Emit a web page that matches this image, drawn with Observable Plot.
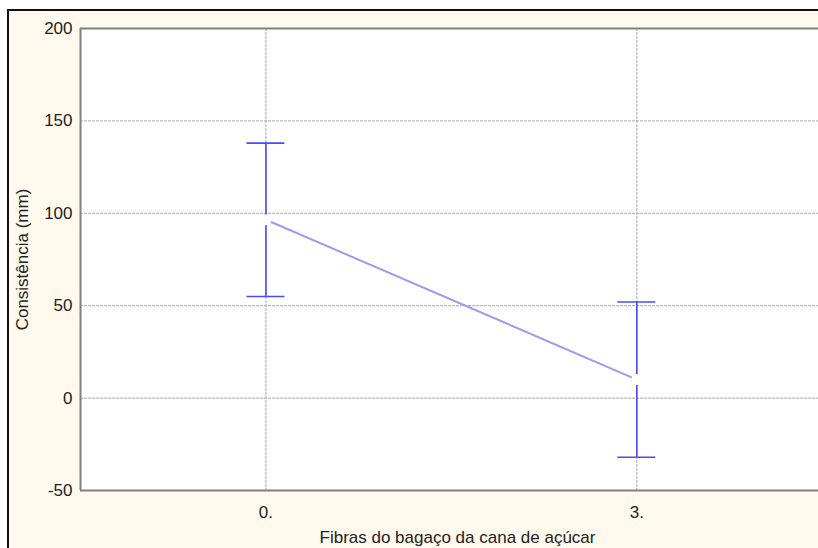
<!DOCTYPE html>
<html>
<head>
<meta charset="utf-8">
<script src="https://cdn.jsdelivr.net/npm/d3@7"></script>
<script src="https://cdn.jsdelivr.net/npm/@observablehq/plot@0.6"></script>
<style>
  html, body { margin: 0; padding: 0; background: #ffffff; overflow: hidden; }
  #wrap {
    position: absolute; left: 7px; top: 9px;
    width: 825px; height: 539px;
    border-left: 2px solid #111; border-top: 2px solid #111;
    background: #fff9ee;
  }
  #wrap svg { display: block; background: #fff9ee; }
</style>
</head>
<body>
<div id="wrap"></div>
<script>
const categories = ["0.", "3."];
const means = [96.5, 10];
const lower = [55, -32];
const upper = [138, 52];
const yTicks = [-50, 0, 50, 100, 150, 200];
const yLabel = "Consistência (mm)";
const xLabel = "Fibras do bagaço da cana de açúcar";

const data = categories.map((c, i) => ({i, c, mean: means[i], lo: lower[i], hi: upper[i]}));
const capHalf = 0.0512;
const font = "'Liberation Sans', Arial, sans-serif";

const chart = Plot.plot({
  width: 825,
  height: 537,
  marginLeft: 71,
  marginTop: 17,
  marginBottom: 58,
  marginRight: 0,
  style: {fontFamily: font, fontSize: "17px", color: "#222", background: "#fff9ee"},
  x: {type: "linear", domain: [-0.5, 1.533]},
  y: {domain: [-50, 200]},
  marks: [
    Plot.frame({fill: "white", stroke: "none"}),
    Plot.gridY([0, 50, 100, 150], {stroke: "#aaa", strokeOpacity: 1, strokeDasharray: "3,1"}),
    Plot.gridX([0, 1], {stroke: "#aaa", strokeOpacity: 1, strokeDasharray: "3,1"}),
    Plot.ruleY([200, -50], {stroke: "#808080", strokeWidth: 2}),
    Plot.ruleX([-0.5], {stroke: "#808080", strokeWidth: 2}),
    Plot.axisY(yTicks, {tickSize: 0, tickPadding: 8, label: null, fontSize: 17, tickFormat: d => String(d)}),
    Plot.axisX([0, 1], {tickSize: 0, tickPadding: 15, label: null, fontSize: 17, tickFormat: i => categories[i]}),
    Plot.line(data, {x: "i", y: "mean", stroke: "#9b9bf2", strokeWidth: 2}),
    Plot.ruleX(data, {x: "i", y1: "lo", y2: "hi", stroke: "#4a4aff", strokeWidth: 1.6}),
    Plot.ruleY(data, {y: "hi", x1: d => d.i - capHalf, x2: d => d.i + capHalf, stroke: "#4a4aff", strokeWidth: 1.6}),
    Plot.ruleY(data, {y: "lo", x1: d => d.i - capHalf, x2: d => d.i + capHalf, stroke: "#4a4aff", strokeWidth: 1.6}),
    Plot.dot(data, {x: "i", y: "mean", r: 5.5, fill: "white", stroke: "none"}),
    Plot.text([yLabel], {frameAnchor: "left", rotate: -90, dx: -57.5, textAnchor: "middle", lineAnchor: "middle", fontSize: 17, fill: "#222"}),
    Plot.text([xLabel], {frameAnchor: "bottom", dy: 47, textAnchor: "middle", lineAnchor: "middle", fontSize: 17, fill: "#222"})
  ]
});
document.getElementById("wrap").appendChild(chart);
</script>
</body>
</html>
